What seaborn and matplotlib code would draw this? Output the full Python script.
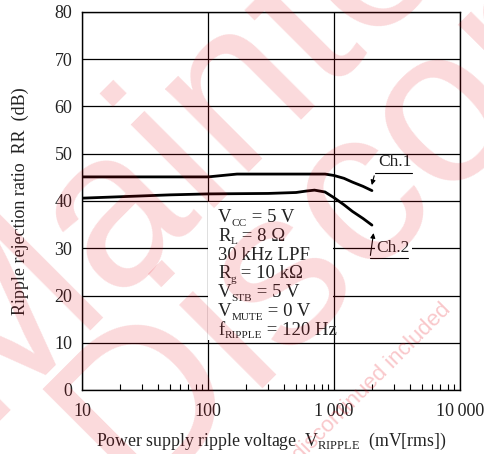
import numpy as np
import pandas as pd
import matplotlib
matplotlib.use("Agg")
import matplotlib.pyplot as plt
from matplotlib.patches import Rectangle
from matplotlib.transforms import IdentityTransform
import seaborn as sns

# values
ch1_v = [10, 30, 100, 130, 170, 300, 600, 850, 1000, 1200, 1400, 1700, 2000]
ch1_rr = [45.1, 45.1, 45.1, 45.4, 45.7, 45.7, 45.7, 45.7, 45.4, 44.8, 44.0, 43.1, 42.2]
ch2_v = [10, 20, 50, 100, 300, 500, 600, 700, 850, 1000, 1200, 1400, 1700, 2000]
ch2_rr = [40.6, 40.9, 41.3, 41.5, 41.6, 41.8, 42.1, 42.3, 41.9, 40.7, 39.2, 37.8, 36.3, 34.9]

x_ticks = [10, 100, 1000, 10000]
x_ticklabels = ["10", "100", "1\u2009000", "10\u2009000"]
y_ticks = [0, 10, 20, 30, 40, 50, 60, 70, 80]

# (main, subscript, rest)
conditions = [
    ("V", "CC", " = 5 V"),
    ("R", "L", " = 8 \u03a9"),
    ("30 kHz LPF", "", ""),
    ("R", "g", " = 10 k\u03a9"),
    ("V", "STB", " = 5 V"),
    ("V", "MUTE", " = 0 V"),
    ("f", "RIPPLE", " = 120 Hz"),
]

df = pd.concat([
    pd.DataFrame({"v": ch1_v, "rr": ch1_rr, "ch": "Ch.1"}),
    pd.DataFrame({"v": ch2_v, "rr": ch2_rr, "ch": "Ch.2"}),
])

sns.set_theme(style="white")
plt.rcParams["font.family"] = ["Liberation Serif", "DejaVu Serif"]
plt.rcParams["mathtext.fontset"] = "custom"
plt.rcParams["mathtext.rm"] = "Liberation Serif"

W, H = 485, 454
fig = plt.figure(figsize=(W / 100, H / 100), dpi=100)
ax = fig.add_axes([82 / W, 64 / H, 378 / W, 378 / H])

sns.lineplot(data=df, x="v", y="rr", units="ch", estimator=None, color="black",
             linewidth=2.0, ax=ax, zorder=3, legend=False)

ax.set_xscale("log")
ax.set_xlim(10, 10000)
ax.set_ylim(0, 80)
ax.set_xticks(x_ticks)
ax.set_xticklabels(x_ticklabels)
ax.set_yticks(y_ticks)
ax.xaxis.set_minor_locator(matplotlib.ticker.LogLocator(base=10, subs=np.arange(2, 10)))
ax.xaxis.set_minor_formatter(matplotlib.ticker.NullFormatter())
ax.tick_params(axis="both", which="major", length=0, labelsize=13, colors="#222222", pad=7)
ax.tick_params(axis="x", which="major", pad=9)
ax.tick_params(axis="x", which="minor", direction="in", length=4, width=0.8,
               bottom=True, top=False, color="black")
ax.grid(True, which="major", color="black", linewidth=0.9)
ax.set_axisbelow(True)
for s in ax.spines.values():
    s.set_color("black")
    s.set_linewidth(1.0)

ax.set_ylabel("Ripple rejection ratio  RR  (dB)", fontsize=13, color="#222222", labelpad=18)
ax.set_xlabel("Power supply ripple voltage  V$_\\mathregular{RIPPLE}$  (mV[rms])",
              fontsize=12.8, color="#222222", labelpad=8)

# white box for the conditions
ax.add_patch(Rectangle((126 / 378, 50 / 378), 125 / 378, 138 / 378, transform=ax.transAxes,
                       facecolor="white", edgecolor="none", zorder=1.5))
renderer = fig.canvas.get_renderer()
fs = 13.5
for i, (main, sub, rest) in enumerate(conditions):
    x = 218
    yb = H - (222 + 18.8 * i)  # baseline in display pixels
    for txt, size, dy in [(main, fs, 0), (sub, fs * 0.6, -3.5), (rest, fs, 0)]:
        if not txt:
            continue
        t = ax.text(x, yb + dy, txt, transform=IdentityTransform(), fontsize=size,
                    color="#222222", va="baseline", ha="left", zorder=4)
        x = t.get_window_extent(renderer).x1

# channel labels
ax.text(3050, 48.3, "Ch.1", fontsize=12.5, ha="center", va="center", color="#222222")
ax.plot([2110, 4160], [45.9, 45.9], color="black", linewidth=0.8)
ax.annotate("", xy=(1970, 42.8), xytext=(2110, 45.9),
            arrowprops=dict(arrowstyle="-|>", color="black", lw=0.8, mutation_scale=7))
ax.text(2960, 30.0, "Ch.2", fontsize=12.5, ha="center", va="center", color="#222222",
        bbox=dict(facecolor="white", edgecolor="none", pad=1.5), zorder=4)
ax.plot([1930, 3860], [27.9, 27.9], color="black", linewidth=0.8, zorder=5)
ax.annotate("", xy=(2075, 33.8), xytext=(1930, 27.9),
            arrowprops=dict(arrowstyle="-|>", color="black", lw=0.8, mutation_scale=7), zorder=5)

# watermark (pixel anchors from top-left)
wm = dict(color="#e60012", alpha=0.15, family="Liberation Sans", ha="left", va="center",
          rotation=45, rotation_mode="anchor", zorder=10)
fig.text(-60 / W, 1 - 382 / H, "Maintenance", fontsize=160, **wm)
fig.text(93 / W, 1 - 457 / H, "Discontinued", fontsize=160, **wm)
fig.text(300 / W, 1 - 462 / H, "discontinued included", fontsize=16, color="#e60012",
         alpha=0.22, family="Liberation Sans", ha="left", va="baseline", rotation=45,
         rotation_mode="anchor", zorder=10)

fig.savefig("out.png", dpi=100)
